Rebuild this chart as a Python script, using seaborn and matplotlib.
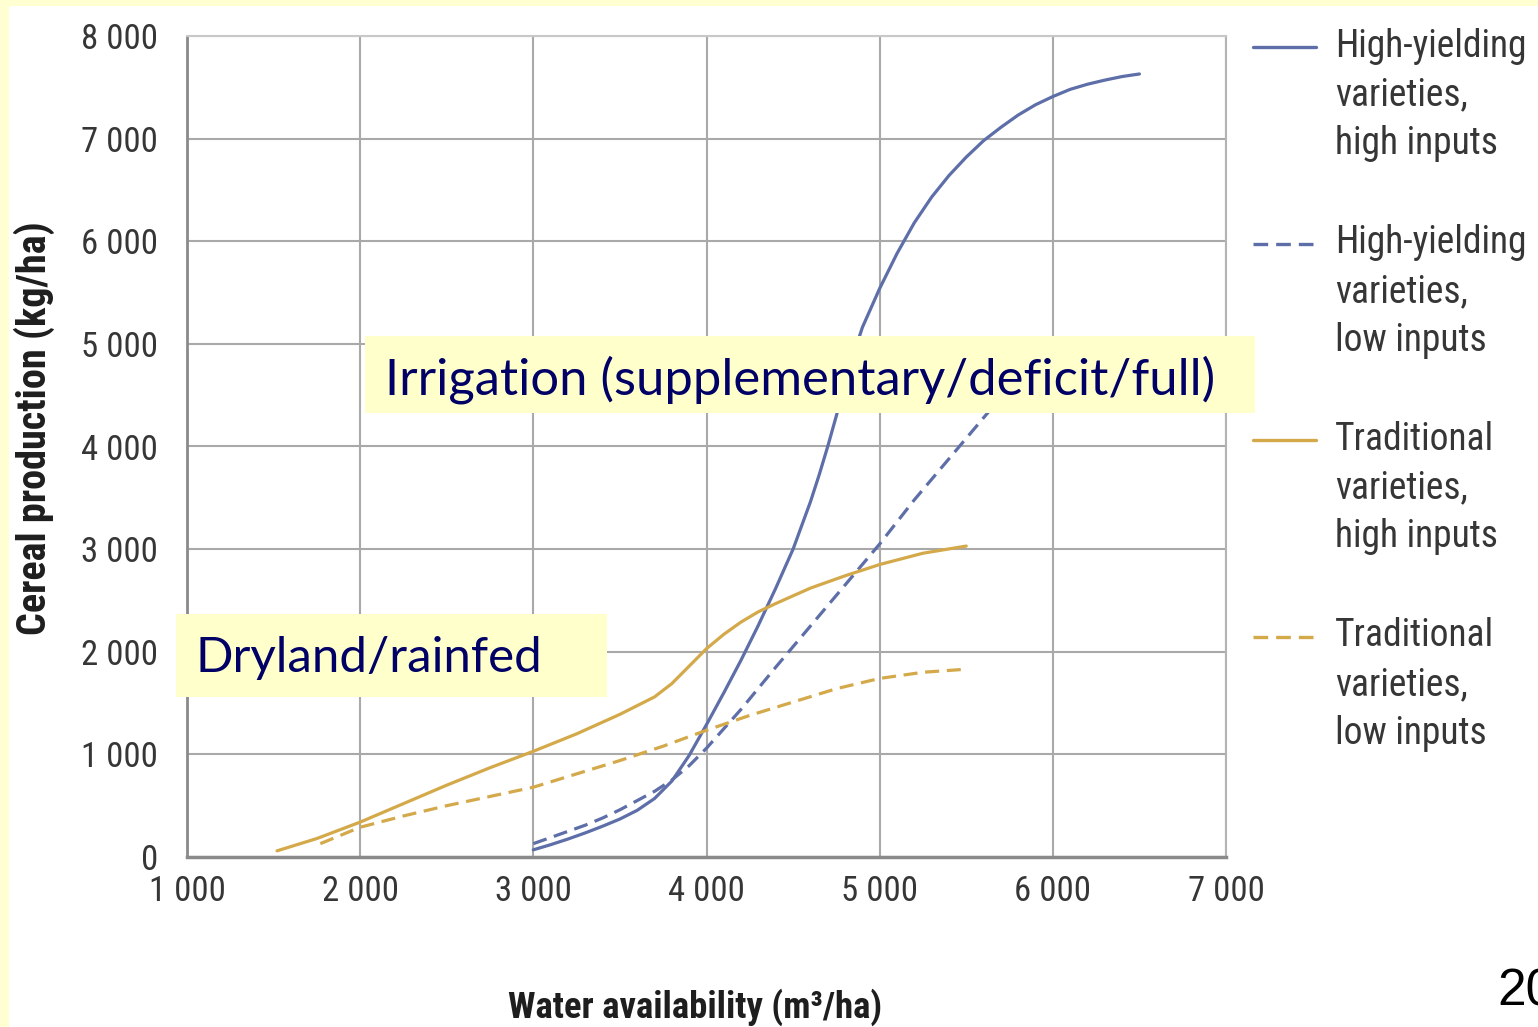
import numpy as np
import pandas as pd
import matplotlib
matplotlib.use("Agg")
import matplotlib.pyplot as plt
import seaborn as sns
from matplotlib import font_manager
from matplotlib.lines import Line2D
from matplotlib.patches import Rectangle
from matplotlib.legend_handler import HandlerLine2D

# ---------------- data ----------------
hyv_high_x = [3000, 3100, 3200, 3300, 3400, 3500, 3600, 3700, 3800, 3900, 4000, 4100,
              4200, 4300, 4400, 4500, 4600, 4650, 4700, 4750, 4800, 4850, 4900, 5000,
              5100, 5200, 5300, 5400, 5500, 5600, 5700, 5800, 5900, 6000, 6100, 6200,
              6300, 6400, 6500]
hyv_high_y = [70, 120, 175, 235, 300, 370, 455, 570, 740, 990, 1290, 1600,
              1920, 2260, 2620, 3000, 3460, 3720, 4000, 4300, 4620, 4900, 5160, 5540,
              5880, 6180, 6430, 6640, 6820, 6980, 7110, 7230, 7330, 7410, 7480, 7530,
              7570, 7605, 7630]

hyv_low_x = [3000, 3100, 3200, 3300, 3400, 3500, 3600, 3700, 3800, 3900, 4000, 4100,
             4200, 4400, 4600, 4800, 5000, 5200, 5400, 5600, 5650]
hyv_low_y = [130, 190, 250, 310, 380, 460, 550, 640, 750, 890, 1060, 1250,
             1440, 1850, 2250, 2650, 3050, 3480, 3880, 4280, 4380]

trad_high_x = [1520, 1750, 2000, 2250, 2500, 2750, 3000, 3250, 3500, 3700, 3800, 3900,
               4000, 4100, 4200, 4300, 4400, 4600, 4800, 5000, 5250, 5500]
trad_high_y = [60, 180, 340, 520, 700, 870, 1030, 1200, 1390, 1560, 1690, 1860,
               2030, 2170, 2290, 2390, 2470, 2620, 2740, 2850, 2960, 3030]

trad_low_x = [1770, 2000, 2250, 2500, 2750, 3000, 3250, 3500, 3750, 4000, 4250, 4500,
              4750, 5000, 5250, 5500]
trad_low_y = [130, 290, 400, 500, 590, 680, 810, 940, 1080, 1235, 1380, 1510,
              1640, 1740, 1800, 1830]

series_names = ["High-yielding\nvarieties,\nhigh inputs",
                "High-yielding\nvarieties,\nlow inputs",
                "Traditional\nvarieties,\nhigh inputs",
                "Traditional\nvarieties,\nlow inputs"]

x_ticks = [1000, 2000, 3000, 4000, 5000, 6000, 7000]
x_tick_labels = ["1 000", "2 000", "3 000", "4 000", "5 000", "6 000", "7 000"]
y_ticks = [0, 1000, 2000, 3000, 4000, 5000, 6000, 7000, 8000]
y_tick_labels = ["0", "1 000", "2 000", "3 000", "4 000", "5 000", "6 000", "7 000", "8 000"]

x_label = "Water availability (m\u00b3/ha)"
y_label = "Cereal production (kg/ha)"
irrigation_text = "Irrigation (supplementary/deficit/full)"
dryland_text = "Dryland/rainfed"
page_number = "20"

# ---------------- build long-form table ----------------
frames = []
for name, xs, ys in zip(series_names,
                        [hyv_high_x, hyv_low_x, trad_high_x, trad_low_x],
                        [hyv_high_y, hyv_low_y, trad_high_y, trad_low_y]):
    frames.append(pd.DataFrame({"water": xs, "cereal": ys, "series": name}))
df = pd.concat(frames, ignore_index=True)

BLUE = "#5D6EA8"
GOLD = "#D4A94A"
palette = dict(zip(series_names, [BLUE, BLUE, GOLD, GOLD]))
dashes = dict(zip(series_names, ["", (4.4, 2.4), "", (4.4, 2.4)]))

# ---------------- style ----------------
sns.set_theme(style="white")


def pick(fams):
    for f in fams:
        try:
            font_manager.findfont(font_manager.FontProperties(family=f),
                                  fallback_to_default=False)
            return f
        except Exception:
            pass
    return "DejaVu Sans"


COND = pick(["Liberation Sans Narrow", "Roboto Condensed", "Liberation Sans"])
ANNOT = pick(["Lato", "Noto Sans", "DejaVu Sans"])
plt.rcParams["font.family"] = [COND, "DejaVu Sans"]

W, H, DPI = 1538, 1027, 100
fig = plt.figure(figsize=(W / DPI, H / DPI), dpi=DPI)
fig.patch.set_facecolor("white")


def fx(px):
    return px / W


def fy(py):
    return 1 - py / H


# pale yellow slide border
BORDER = "#FFFFD2"
fig.add_artist(Rectangle((0, 0), fx(9), 1, transform=fig.transFigure,
                         facecolor=BORDER, edgecolor="none", zorder=0))
fig.add_artist(Rectangle((0, fy(6)), 1, 6 / H, transform=fig.transFigure,
                         facecolor=BORDER, edgecolor="none", zorder=0))

ax = fig.add_axes([fx(187), fy(857), (1226 - 187) / W, (857 - 36) / H])
ax.set_facecolor("white")

sns.lineplot(data=df, x="water", y="cereal", hue="series", style="series",
             hue_order=series_names, style_order=series_names,
             palette=palette, dashes=dashes, estimator=None, sort=False,
             linewidth=2.3, legend=False, ax=ax)
for ln in ax.lines:
    ln.set_solid_capstyle("round")
    ln.set_solid_joinstyle("round")

ax.set_xlim(1000, 7000)
ax.set_ylim(0, 8000)
ax.set_xticks(x_ticks)
ax.set_xticklabels(x_tick_labels)
ax.set_yticks(y_ticks)
ax.set_yticklabels(y_tick_labels)
ax.grid(True, color="#A9A9A9", linewidth=1.5)
ax.set_axisbelow(True)
for side, col, lw in [("left", "#8A8A8A", 2.0), ("bottom", "#8A8A8A", 2.5),
                      ("right", "#B4B4B4", 1.5), ("top", "#C8C8C8", 1.5)]:
    ax.spines[side].set_color(col)
    ax.spines[side].set_linewidth(lw)
    ax.spines[side].set_visible(True)

TXT = "#363636"
ax.tick_params(axis="both", length=0, labelsize=25, labelcolor=TXT)
ax.tick_params(axis="x", pad=13)
ax.tick_params(axis="y", pad=21)

ax.set_xlabel(x_label, fontsize=26.5, fontweight="bold", color="#1e1e1e")
ax.set_ylabel(y_label, fontsize=29, fontweight="bold", color="#1e1e1e")
ax.xaxis.set_label_coords((695 - 187) / 1039, (857 - 988) / 821)
ax.yaxis.set_label_coords((55 - 187) / 1039, (857 - 428) / 821)


# ---------------- legend (handle aligned with first text line) ----------------
LEG_FS = 27
LINE_PITCH_PT = 49 * 72 / DPI


class FirstLineHandler(HandlerLine2D):
    def create_artists(self, legend, orig_handle, xdescent, ydescent, width,
                       height, fontsize, trans):
        arts = super().create_artists(legend, orig_handle, xdescent, ydescent,
                                      width, height, fontsize, trans)
        for a in arts:
            a.set_ydata(np.asarray(a.get_ydata(), dtype=float) + LINE_PITCH_PT)
        return arts


leg_px = LEG_FS * DPI / 72
leg = ax.legend(handles=list(ax.lines[:4]), labels=series_names,
                handler_map={Line2D: FirstLineHandler()},
                loc="upper left", bbox_to_anchor=(fx(1253), fy(28)),
                bbox_transform=fig.transFigure, frameon=False,
                fontsize=LEG_FS, borderpad=0, borderaxespad=0,
                handlelength=63 / leg_px, handletextpad=19 / leg_px,
                labelspacing=1.66)
for t in leg.get_texts():
    t.set_color(TXT)
    t.set_linespacing(1.4)
for h in leg.legend_handles:
    h.set_linewidth(2.4)

# ---------------- annotation boxes ----------------
BOXC = "#FFFFCC"
NAVY = "#000066"
fig.add_artist(Rectangle((fx(365), fy(413)), (1255 - 365) / W, (413 - 336) / H,
                         transform=fig.transFigure, facecolor=BOXC,
                         edgecolor="none", zorder=5))
fig.add_artist(Rectangle((fx(176), fy(697)), (607 - 176) / W, (697 - 614) / H,
                         transform=fig.transFigure, facecolor=BOXC,
                         edgecolor="none", zorder=5))
fig.text(fx(385), fy(395), irrigation_text, ha="left", va="baseline",
         fontsize=36.5, color=NAVY, family=ANNOT, zorder=6)
fig.text(fx(195), fy(672), dryland_text, ha="left", va="baseline",
         fontsize=35.5, color=NAVY, family=ANNOT, zorder=6)

fig.text(fx(1497), fy(1005), page_number, ha="left", va="baseline",
         fontsize=37, color="black", family=["Liberation Sans", "DejaVu Sans"],
         zorder=6)

fig.savefig("out.png", dpi=DPI, facecolor=fig.get_facecolor())
